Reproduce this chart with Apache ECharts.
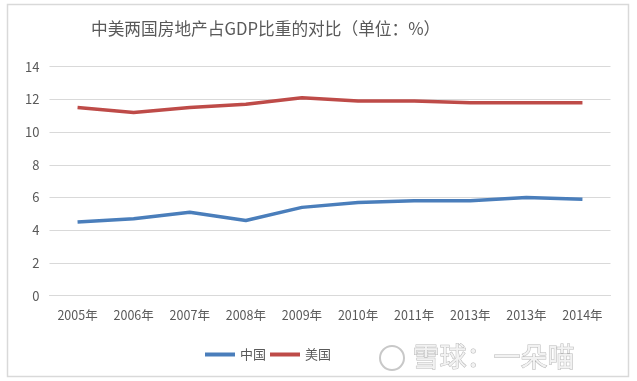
<!DOCTYPE html>
<html><head><meta charset="utf-8">
<script src="https://cdn.jsdelivr.net/npm/echarts@6/dist/echarts.min.js"></script>
<style>html,body{margin:0;padding:0;background:#fff;}#c{width:637px;height:381px;}</style>
</head><body><div id="c"></div>
<script>
const categories = ['2005年','2006年','2007年','2008年','2009年','2010年','2011年','2013年','2013年','2014年'];
const china = [4.5, 4.7, 5.1, 4.6, 5.4, 5.7, 5.8, 5.8, 6.0, 5.9];
const usa = [11.5, 11.2, 11.5, 11.7, 12.1, 11.9, 11.9, 11.8, 11.8, 11.8];
const titleText = '中美两国房地产占GDP比重的对比（单位：%）';
const font = '"Noto Sans CJK SC", "Liberation Sans", sans-serif';
const chart = echarts.init(document.getElementById('c'));
chart.setOption({
  backgroundColor: '#fff',
  animation: false,
  title: { text: titleText, left: 86, top: 15,
    textStyle: { fontFamily: '"Noto Sans CJK SC", serif', fontSize: 16.7, fontWeight: 'normal', color: '#595959' } },
  graphic: [
    { type: 'rect', shape: { x: 7.5, y: 4.5, width: 621, height: 372 }, style: { fill: 'none', stroke: '#d9d9d9', lineWidth: 1.5 }, z: -1 },
    { type: 'circle', shape: { cx: 392, cy: 358, r: 12 }, style: { fill: 'none', stroke: '#c8c8c8', lineWidth: 2 } },
    { type: 'text', left: 412, top: 343, style: { text: '雪球：一朵喵', font: '27px ' + font, fill: '#f2f2f2', stroke: '#b8b8b8', lineWidth: 1 } }
  ],
  legend: { data: ['中国', '美国'], left: 200, top: 343, icon: 'rect', itemWidth: 30, itemHeight: 4, itemGap: 4,
    textStyle: { fontFamily: font, fontSize: 13, color: '#595959' } },
  grid: { left: 49.5, right: 26.5, top: 66.7, bottom: 85.3 },
  xAxis: { type: 'category', data: categories, boundaryGap: true,
    axisLine: { show: true, lineStyle: { color: '#d9d9d9' } }, axisTick: { show: false },
    axisLabel: { fontFamily: font, fontSize: 12.5, color: '#595959', margin: 13, interval: 0 } },
  yAxis: { type: 'value', min: 0, max: 14, interval: 2,
    axisLine: { show: false }, axisTick: { show: false },
    splitLine: { lineStyle: { color: '#d9d9d9', width: 1 } },
    axisLabel: { fontFamily: font, fontSize: 13, color: '#595959', margin: 10 } },
  series: [
    { name: '中国', type: 'line', data: china, symbol: 'none', lineStyle: { width: 3.5, color: '#4a7ebb' }, itemStyle: { color: '#4a7ebb' } },
    { name: '美国', type: 'line', data: usa, symbol: 'none', lineStyle: { width: 3.5, color: '#be4b48' }, itemStyle: { color: '#be4b48' } }
  ]
});
</script></body></html>
